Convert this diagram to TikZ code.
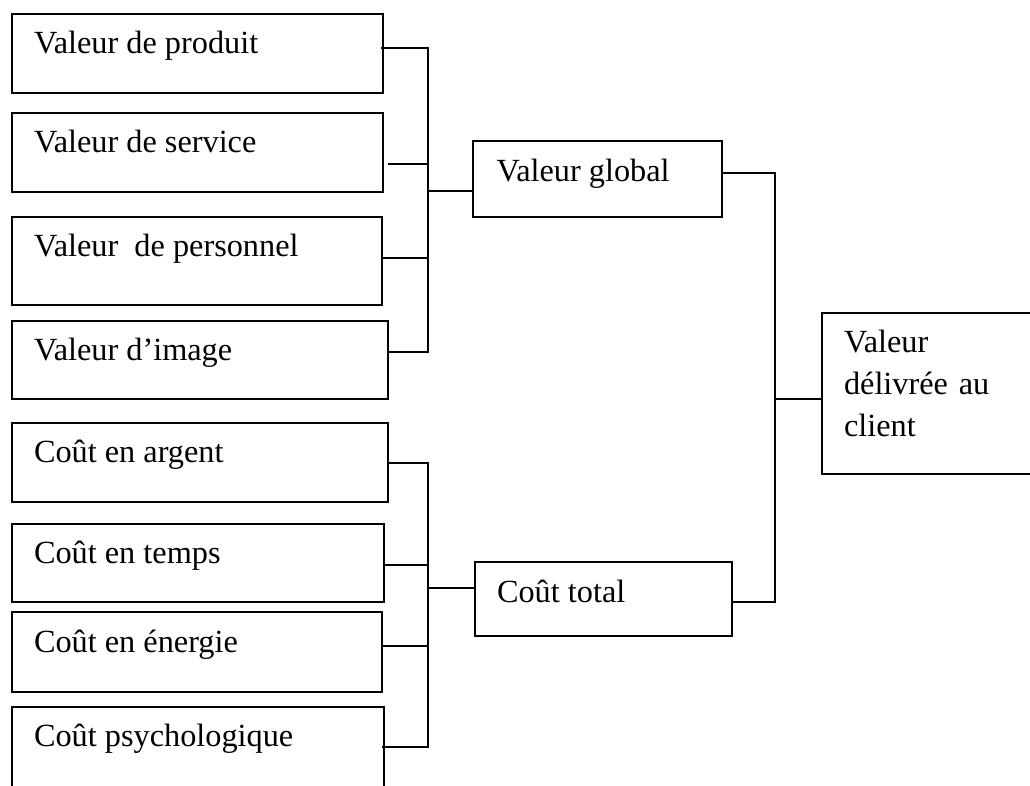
\documentclass[tikz,border=0pt]{standalone}
\usepackage{fontspec}
\setmainfont{Liberation Serif}
\begin{document}
\begin{tikzpicture}[x=1pt,y=-1pt,
  line width=2pt,
  box/.style={draw=black, rectangle, inner sep=0pt, outer sep=0pt, anchor=north west},
  lbl/.style={inner sep=0pt, anchor=base west, font=\fontsize{32.3}{41.85}\selectfont},
  wire/.style={draw=black, line width=2pt, line join=miter}]
\fill[white] (0,0) rectangle (1030,785);
\useasboundingbox (0,0) rectangle (1030,785);
\clip (0,0) rectangle (1030,785);

% value components
\node[box, minimum width=371pt, minimum height=79pt] (b1) at (12,14)  {};
\node[box, minimum width=371pt, minimum height=79pt] (b2) at (12,113) {};
\node[box, minimum width=370pt, minimum height=88pt] (b3) at (12,217) {};
\node[box, minimum width=376pt, minimum height=78pt] (b4) at (12,321) {};
% cost components
\node[box, minimum width=376pt, minimum height=79pt] (b5) at (12,423) {};
\node[box, minimum width=372pt, minimum height=78pt] (b6) at (12,524) {};
\node[box, minimum width=370pt, minimum height=80pt] (b7) at (12,612) {};
\node[box, minimum width=372pt, minimum height=95pt] (b8) at (12,707) {};
% totals
\node[box, minimum width=249pt, minimum height=76pt]  (g) at (473,141) {};
\node[box, minimum width=257pt, minimum height=74pt]  (c) at (475,562) {};
\node[box, minimum width=230pt, minimum height=161pt] (d) at (822,313) {};

% labels
\node[lbl] (t1) at (33,53.5)  {Valeur de produit};
\node[lbl] (t2) at (33,152.5) {Valeur de service};
\node[lbl] (t3) at (33,256.5) {Valeur~~de personnel};
\node[lbl] (t4) at (33,360.5) {Valeur d’image};
\node[lbl] (t5) at (33,462.5) {Coût en argent};
\node[lbl] (t6) at (33,563.5) {Coût en temps};
\node[lbl] (t7) at (33,652)   {Coût en énergie};
\node[lbl] (t8) at (33,746.5) {Coût psychologique};
\node[lbl] (tg) at (495.5,181.5) {Valeur global};
\node[lbl] (tc) at (496,602)  {Coût total};
\node[lbl, text width=175pt, align=left] (td) at (843,352.3) {Valeur\\délivrée au\\client};

% stub points on the boxes
\coordinate (s1) at (381,48);
\coordinate (s2) at (388,164);
\coordinate (s3) at (382,258);
\coordinate (s4) at (388,352);
\coordinate (s5) at (388,463);
\coordinate (s6) at (384,565);
\coordinate (s7) at (382,646);
\coordinate (s8) at (382,747);
\coordinate (sg) at (g.west |- 0,191);
\coordinate (sc) at (c.west |- 0,588);
\coordinate (rg) at (g.east |- 0,173);
\coordinate (rc) at (c.east |- 0,602);
\coordinate (sd) at (d.west |- 0,399);
% bus lines
\coordinate (busA) at (428,0);
\coordinate (busC) at (775,0);

% value bus
\draw[wire] (s1) -- (s1 -| busA) -- (s4 -| busA) -- (s4);
\draw[wire] (s2) -- (s2 -| busA);
\draw[wire] (s3) -- (s3 -| busA);
\draw[wire] (sg -| busA) -- (sg);
% cost bus
\draw[wire] (s5) -- (s5 -| busA) -- (s8 -| busA) -- (s8);
\draw[wire] (s6) -- (s6 -| busA);
\draw[wire] (s7) -- (s7 -| busA);
\draw[wire] (sc -| busA) -- (sc);
% delivered value bus
\draw[wire] (rg) -- (rg -| busC) -- (rc -| busC) -- (rc);
\draw[wire] (sd -| busC) -- (sd);
\end{tikzpicture}
\end{document}
